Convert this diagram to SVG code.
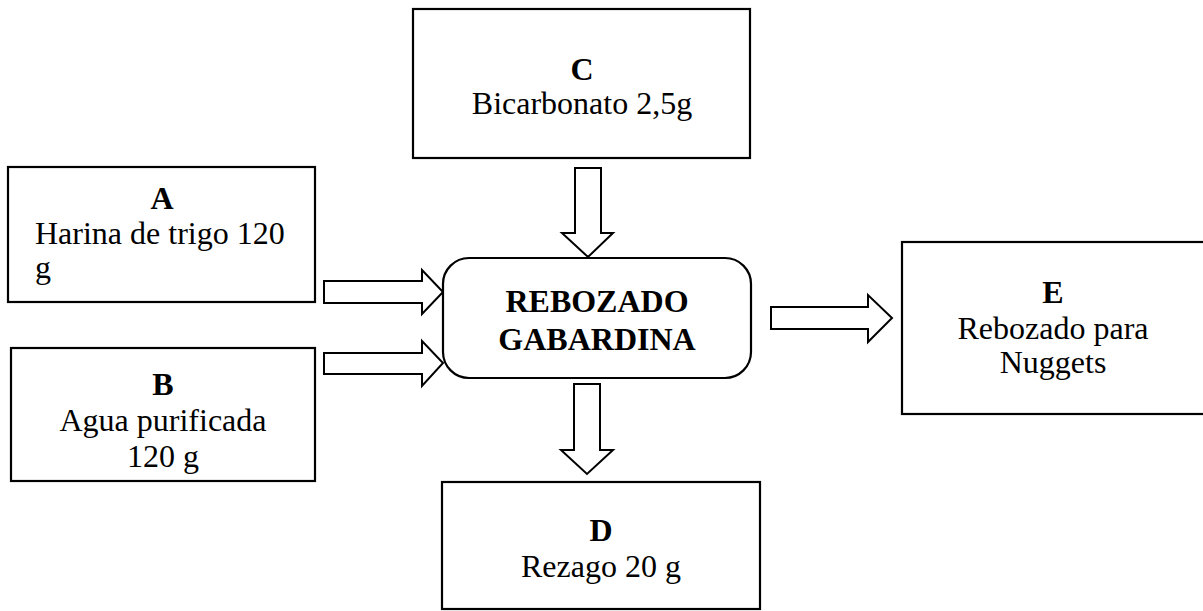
<svg xmlns="http://www.w3.org/2000/svg" width="1203" height="611" viewBox="0 0 1203 611">
<style>
.box{fill:#fff;stroke:#000;stroke-width:2.2}
.arr{fill:#fff;stroke:#000;stroke-width:2;stroke-linejoin:miter}
text{font-family:"Liberation Serif","Times New Roman",serif;font-size:32px;fill:#000}
.b{font-weight:bold}
.c{text-anchor:middle}
</style>
<rect width="1203" height="611" fill="#fff"/>
<g id="connectors">
<polygon class="arr" points="575,168 601,168 601,233 613,233 588,257 562,233 575,233"/>
<polygon class="arr" points="574,384 600,384 600,450 613,450 587,474 561,450 574,450"/>
<polygon class="arr" points="324,281 422,281 422,270 443,292 422,314 422,303 324,303"/>
<polygon class="arr" points="324,353 422,353 422,341 443,363 422,386 422,374 324,374"/>
<polygon class="arr" points="771,307 868,307 868,295 892,318 868,342 868,329 771,329"/>
</g>
<g id="nodeC">
<rect class="box" x="413" y="9" width="337" height="149"/>
<text class="b c" x="582" y="80">C</text>
<text class="c" x="582" y="114">Bicarbonato 2,5g</text>
</g>
<g id="nodeA">
<rect class="box" x="8" y="167" width="307" height="135"/>
<text class="b c" x="162" y="209">A</text>
<text x="35" y="244">Harina de trigo 120</text>
<text x="35" y="278">g</text>
</g>
<g id="nodeB">
<rect class="box" x="11" y="348" width="304" height="133"/>
<text class="b c" x="163" y="395">B</text>
<text class="c" x="163" y="431">Agua purificada</text>
<text class="c" x="163" y="467">120 g</text>
</g>
<g id="nodeMain">
<rect class="box" x="443" y="258" width="308" height="120" rx="26" ry="26"/>
<text class="b c" x="597" y="312">REBOZADO</text>
<text class="b c" x="597" y="350">GABARDINA</text>
</g>
<g id="nodeE">
<rect class="box" x="902" y="242" width="304" height="172"/>
<text class="b c" x="1053" y="303">E</text>
<text class="c" x="1053" y="339">Rebozado para</text>
<text class="c" x="1053" y="373">Nuggets</text>
</g>
<g id="nodeD">
<rect class="box" x="442" y="482" width="318" height="127"/>
<text class="b c" x="601" y="541">D</text>
<text class="c" x="601" y="577">Rezago 20 g</text>
</g>
</svg>
